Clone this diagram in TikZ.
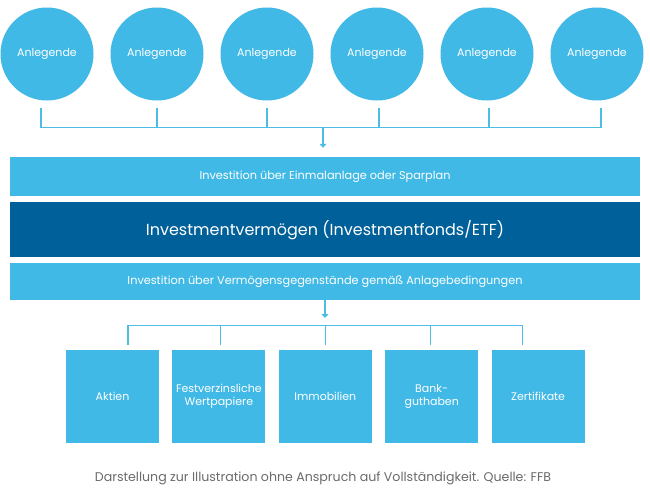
\documentclass[tikz,border=0pt]{standalone}
\usepackage{fontspec}
\setmainfont{Poppins}
\usetikzlibrary{positioning,arrows.meta,calc}
\definecolor{hellblau}{HTML}{41B9E6}
\definecolor{dunkelblau}{HTML}{00609A}
\definecolor{linie}{HTML}{4DBDE6}
\definecolor{grau}{HTML}{6B6B6B}
\tikzset{
  anleger/.style ={circle, fill=hellblau, minimum size=93pt, inner sep=0pt,
                   text=white, font=\fontsize{11}{13}\selectfont},
  balken/.style  ={fill=hellblau, minimum width=630pt, minimum height=39pt,
                   inner sep=0pt, text=white, font=\fontsize{11.3}{13}\selectfont},
  fonds/.style   ={balken, fill=dunkelblau, minimum height=55pt,
                   font=\fontsize{16}{19}\selectfont},
  anlage/.style  ={fill=hellblau, minimum width=93pt, minimum height=93pt,
                   inner sep=0pt, text=white, align=center,
                   font=\fontsize{11}{13}\selectfont},
  ln/.style      ={draw=linie, line width=1.3pt},
  fl/.style      ={ln, -{Triangle[width=7pt,length=4pt]}},
}

\begin{document}
\begin{tikzpicture}[x=1pt, y=-1pt]
  \useasboundingbox[fill=white] (0,0) rectangle (650,490);

  % ---------------- Anlegende (top row) -----------------
  \foreach \i/\x/\dx in {1/47/-6, 2/157/0, 3/267/0, 4/377/2, 5/487/2, 6/597/4} {
    \node[anleger] (a\i) at (\x,54) {Anlegende};
    \coordinate (a\i-o) at ($(a\i.south)+(\dx,7)$);
    \coordinate (a\i-u) at ($(a\i.south)+(\dx,27)$);
    \draw[ln] (a\i-o) -- (a\i-u);
  }
  \draw[ln] (a1-u) -- (a6-u);

  % ---------------- Balken -----------------
  \node[balken] (einmal) at (325,176.5) {Investition über Einmalanlage oder Sparplan};
  \node[fonds, below=6pt of einmal] (fonds) {Investmentvermögen (Investmentfonds/ETF)};
  \node[balken, below=5pt of fonds, minimum height=37pt] (gegenst)
        {Investition über Vermögensgegenstände gemäß Anlagebedingungen};

  \coordinate (o-pfeil) at (323,127);
  \coordinate (o-spitze) at ($(o-pfeil |- einmal.north)+(0,-9)$);
  \draw[fl] (o-pfeil) -- (o-spitze);

  % ---------------- Vermögensgegenstände -----------------
  \node[anlage] (aktien) at (112.5,396) {Aktien};
  \node[anlage, right=13pt of aktien] (renten) {Festverzinsliche\\Wertpapiere};
  \node[anlage, right=13pt of renten] (immo) {Immobilien};
  \node[anlage, right=13pt of immo] (bank) {Bank-\\guthaben};
  \node[anlage, right=13pt of bank] (zert) {Zertifikate};

  \coordinate (u-pfeil) at (325,298);
  \coordinate (u-spitze) at (325,318);
  \draw[fl] (gegenst.south -| u-pfeil) -- (u-spitze);
  \foreach \n/\dx in {aktien/15.5, renten/1.5, immo/0.5, bank/-1.5, zert/-15.5} {
    \coordinate (\n-o) at ($(\n.north)+(\dx,-24)$);
    \draw[ln] (\n-o) -- ++(0,20);
  }
  \draw[ln] (aktien-o) -- (zert-o);

  % ---------------- Quelle -----------------
  \node[text=grau, font=\fontsize{12.6}{15}\selectfont] (quelle) at (323,478)
        {Darstellung zur Illustration ohne Anspruch auf Vollständigkeit. Quelle: FFB};
\end{tikzpicture}
\end{document}
